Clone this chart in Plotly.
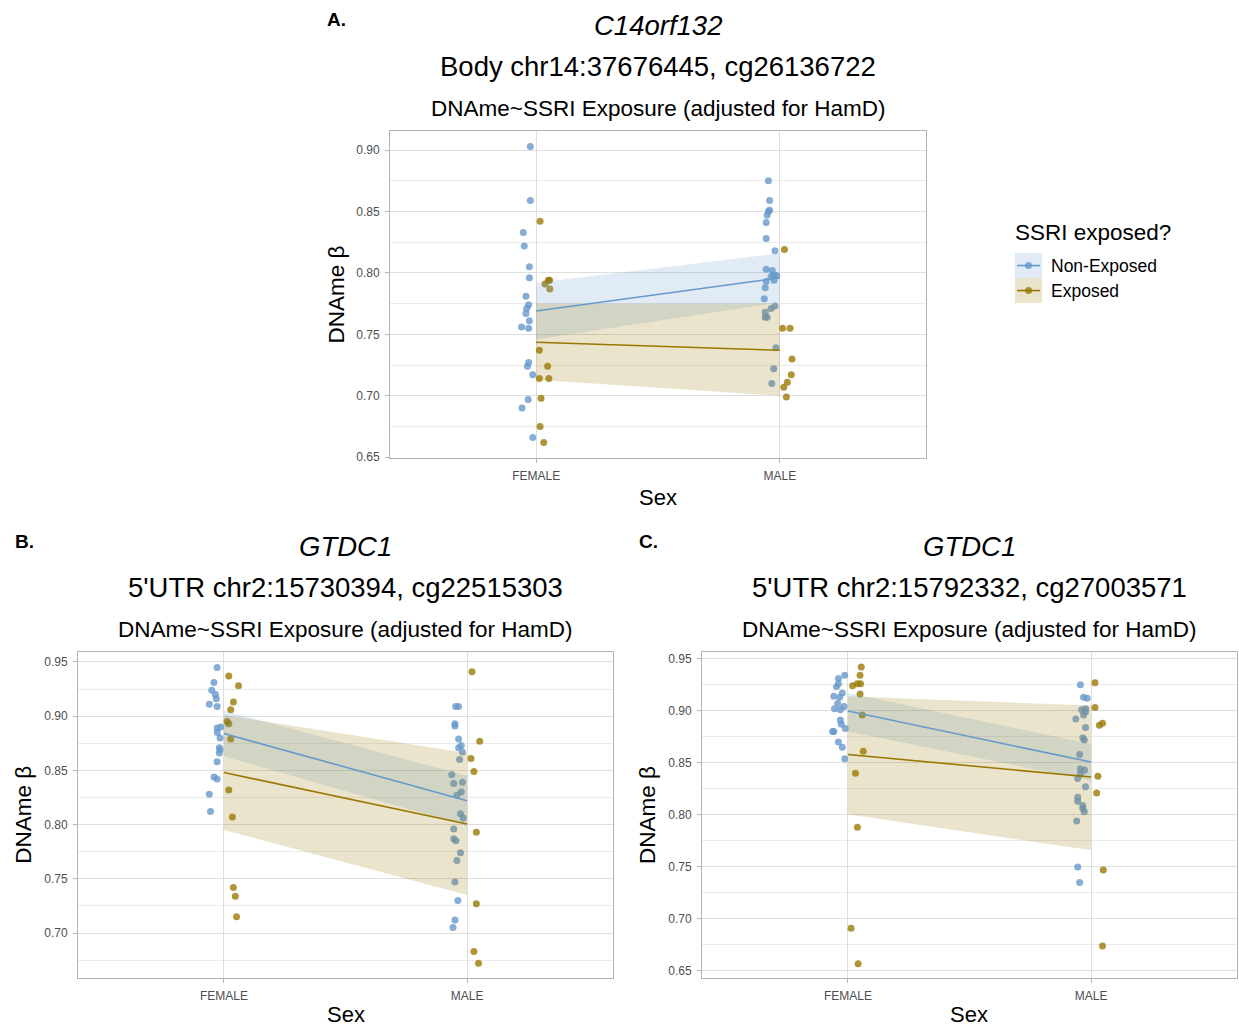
import plotly.graph_objects as go

W, H = 1239, 1026
BLUE = "#6699CC"
GOLD = "#997700"
FONT = "Liberation Sans, Arial, sans-serif"

sex_labels = ["FEMALE", "MALE"]
sex_pos = [1, 2]
group_names = ["Non-Exposed", "Exposed"]

# ---------------- Panel A: C14orf132 ----------------
A_nonexp_F_y = [0.903, 0.859, 0.833, 0.822, 0.805, 0.796, 0.781, 0.774, 0.771, 0.767, 0.761, 0.756, 0.755, 0.724, 0.727, 0.717, 0.697, 0.690, 0.666]
A_nonexp_F_dx = [-0.024, -0.024, -0.053, -0.049, -0.028, -0.028, -0.042, -0.031, -0.039, -0.042, -0.028, -0.060, -0.031, -0.036, -0.031, -0.014, -0.033, -0.058, -0.014]
A_exp_F_y = [0.842, 0.794, 0.794, 0.791, 0.787, 0.737, 0.724, 0.714, 0.714, 0.698, 0.675, 0.662]
A_exp_F_dx = [0.016, 0.055, 0.050, 0.036, 0.056, 0.013, 0.047, 0.013, 0.052, 0.020, 0.016, 0.031]
A_nonexp_M_y = [0.875, 0.859, 0.851, 0.850, 0.847, 0.841, 0.828, 0.818, 0.803, 0.802, 0.798, 0.798, 0.797, 0.794, 0.793, 0.788, 0.779, 0.773, 0.771, 0.768, 0.764, 0.764, 0.739, 0.722, 0.710]
A_nonexp_M_dx = [-0.047, -0.042, -0.042, -0.047, -0.052, -0.056, -0.056, -0.020, -0.056, -0.031, -0.025, -0.013, -0.036, -0.024, -0.056, -0.060, -0.064, -0.020, -0.036, -0.060, -0.060, -0.052, -0.016, -0.025, -0.033]
A_exp_M_y = [0.819, 0.755, 0.755, 0.730, 0.717, 0.711, 0.707, 0.699]
A_exp_M_dx = [0.019, 0.011, 0.042, 0.050, 0.047, 0.031, 0.016, 0.027]
A_fit_nonexp = [0.769, 0.796]
A_lo_nonexp = [0.746, 0.776]
A_hi_nonexp = [0.792, 0.816]
A_fit_exp = [0.7435, 0.737]
A_lo_exp = [0.713, 0.700]
A_hi_exp = [0.775, 0.775]

# ---------------- Panel B: GTDC1 cg22515303 ----------------
B_nonexp_F_y = [0.945, 0.931, 0.924, 0.920, 0.916, 0.911, 0.909, 0.890, 0.889, 0.885, 0.880, 0.871, 0.869, 0.866, 0.858, 0.844, 0.842, 0.828, 0.812]
B_nonexp_F_dx = [-0.028, -0.041, -0.050, -0.035, -0.031, -0.060, -0.028, -0.013, -0.028, -0.027, -0.016, -0.019, -0.016, -0.019, -0.028, -0.041, -0.028, -0.060, -0.055]
B_exp_F_y = [0.937, 0.928, 0.913, 0.906, 0.895, 0.893, 0.879, 0.832, 0.807, 0.742, 0.734, 0.715]
B_exp_F_dx = [0.020, 0.060, 0.039, 0.028, 0.013, 0.020, 0.028, 0.020, 0.035, 0.039, 0.047, 0.052]
B_nonexp_M_y = [0.909, 0.909, 0.893, 0.891, 0.879, 0.873, 0.871, 0.867, 0.860, 0.846, 0.838, 0.839, 0.830, 0.827, 0.810, 0.806, 0.796, 0.787, 0.785, 0.774, 0.767, 0.747, 0.730, 0.712, 0.705]
B_nonexp_M_dx = [-0.047, -0.035, -0.050, -0.050, -0.035, -0.024, -0.035, -0.019, -0.031, -0.063, -0.055, -0.019, -0.024, -0.042, -0.027, -0.016, -0.055, -0.055, -0.046, -0.027, -0.042, -0.050, -0.038, -0.050, -0.058]
B_exp_M_y = [0.941, 0.877, 0.861, 0.849, 0.793, 0.727, 0.683, 0.672]
B_exp_M_dx = [0.020, 0.052, 0.016, 0.028, 0.038, 0.038, 0.028, 0.047]
B_fit_nonexp = [0.884, 0.822]
B_lo_nonexp = [0.863, 0.799]
B_hi_nonexp = [0.905, 0.845]
B_fit_exp = [0.848, 0.8005]
B_lo_exp = [0.795, 0.735]
B_hi_exp = [0.901, 0.866]

# ---------------- Panel C: GTDC1 cg27003571 ----------------
C_nonexp_F_y = [0.934, 0.931, 0.926, 0.923, 0.917, 0.914, 0.913, 0.907, 0.904, 0.902, 0.901, 0.891, 0.887, 0.883, 0.880, 0.880, 0.870, 0.865, 0.854]
C_nonexp_F_dx = [-0.013, -0.039, -0.039, -0.047, -0.023, -0.058, -0.034, -0.042, -0.016, -0.055, -0.031, -0.031, -0.027, -0.011, -0.063, -0.058, -0.039, -0.023, -0.013]
C_exp_F_y = [0.942, 0.934, 0.924, 0.926, 0.926, 0.916, 0.896, 0.861, 0.840, 0.788, 0.691, 0.657]
C_exp_F_dx = [0.055, 0.050, 0.019, 0.039, 0.052, 0.050, 0.059, 0.063, 0.031, 0.039, 0.013, 0.042]
C_nonexp_M_y = [0.925, 0.913, 0.912, 0.901, 0.902, 0.899, 0.896, 0.892, 0.884, 0.874, 0.872, 0.858, 0.844, 0.843, 0.835, 0.817, 0.813, 0.809, 0.806, 0.803, 0.827, 0.794, 0.750, 0.735, 0.839]
C_nonexp_M_dx = [-0.044, -0.031, -0.016, -0.039, -0.023, -0.023, -0.031, -0.063, -0.023, -0.034, -0.028, -0.047, -0.044, -0.027, -0.055, -0.055, -0.055, -0.034, -0.034, -0.028, -0.023, -0.059, -0.055, -0.047, -0.044]
C_exp_M_y = [0.927, 0.903, 0.886, 0.888, 0.837, 0.821, 0.747, 0.674]
C_exp_M_dx = [0.016, 0.016, 0.034, 0.047, 0.028, 0.023, 0.050, 0.047]
C_fit_nonexp = [0.8997, 0.8507]
C_lo_nonexp = [0.880, 0.833]
C_hi_nonexp = [0.917, 0.868]
C_fit_exp = [0.858, 0.8363]
C_lo_exp = [0.8005, 0.766]
C_hi_exp = [0.914, 0.905]

titles = [
    ("C14orf132", "Body chr14:37676445, cg26136722"),
    ("GTDC1", "5'UTR chr2:15730394, cg22515303"),
    ("GTDC1", "5'UTR chr2:15792332, cg27003571"),
]
subtitle = "DNAme~SSRI Exposure (adjusted for HamD)"

panels = [
    dict(F=[(A_nonexp_F_dx, A_nonexp_F_y), (A_exp_F_dx, A_exp_F_y)],
         M=[(A_nonexp_M_dx, A_nonexp_M_y), (A_exp_M_dx, A_exp_M_y)],
         fit=[(A_fit_nonexp, A_lo_nonexp, A_hi_nonexp), (A_fit_exp, A_lo_exp, A_hi_exp)],
         px=(390, 926, 130, 456.7), yr=(0.6495, 0.9155), dtick=0.05, sex_gap=40),
    dict(F=[(B_nonexp_F_dx, B_nonexp_F_y), (B_exp_F_dx, B_exp_F_y)],
         M=[(B_nonexp_M_dx, B_nonexp_M_y), (B_exp_M_dx, B_exp_M_y)],
         fit=[(B_fit_nonexp, B_lo_nonexp, B_hi_nonexp), (B_fit_exp, B_lo_exp, B_hi_exp)],
         px=(78, 613, 651, 976.7), yr=(0.6588, 0.9592), dtick=0.05, sex_gap=37),
    dict(F=[(C_nonexp_F_dx, C_nonexp_F_y), (C_exp_F_dx, C_exp_F_y)],
         M=[(C_nonexp_M_dx, C_nonexp_M_y), (C_exp_M_dx, C_exp_M_y)],
         fit=[(C_fit_nonexp, C_lo_nonexp, C_hi_nonexp), (C_fit_exp, C_lo_exp, C_hi_exp)],
         px=(702, 1237, 651, 977), yr=(0.6433, 0.9564), dtick=0.05, sex_gap=37),
]

colors = [BLUE, GOLD]
pt_rgba = ["rgba(102,153,204,0.8)", "rgba(153,119,0,0.78)"]
fill_rgba = ["rgba(102,153,204,0.2)", "rgba(153,119,0,0.2)"]

# small empirical vertical calibration of the rendered page
VS, VOFF = 0.9933, -1.1


def px_x(x):
    return x / W


def px_y(y):
    return 1 - ((y - VOFF) / VS) / H


def note(text, x, y, size, xanchor="center", angle=0):
    return dict(text=text, x=px_x(x), y=px_y(y), xref="paper", yref="paper",
                xanchor=xanchor, yanchor="middle", showarrow=False, textangle=angle,
                font=dict(family=FONT, size=size, color="#000000"))


fig = go.Figure()
annotations = []
shapes = []

for i, p in enumerate(panels):
    sfx = "" if i == 0 else str(i + 1)
    xa, ya = "x" + sfx, "y" + sfx
    # points first (ribbons are drawn over them as in the original)
    for g in range(2):
        xs, ys = [], []
        for pos, key in zip(sex_pos, ["F", "M"]):
            dx, yv = p[key][g]
            xs += [pos + d for d in dx]
            ys += list(yv)
        fig.add_trace(go.Scatter(x=xs, y=ys, mode="markers", xaxis=xa, yaxis=ya,
                                 marker=dict(size=7, color=pt_rgba[g], line=dict(width=0)),
                                 name=group_names[g], showlegend=False, hoverinfo="x+y"))
    for g in range(2):
        fit, lo, hi = p["fit"][g]
        fig.add_trace(go.Scatter(x=sex_pos + sex_pos[::-1], y=list(lo) + list(hi)[::-1],
                                 mode="lines", fill="toself", fillcolor=fill_rgba[g],
                                 line=dict(width=0), xaxis=xa, yaxis=ya,
                                 showlegend=False, hoverinfo="skip"))
    for g in range(2):
        fit, lo, hi = p["fit"][g]
        fig.add_trace(go.Scatter(x=sex_pos, y=fit, mode="lines", xaxis=xa, yaxis=ya,
                                 line=dict(color=colors[g], width=1.6),
                                 name=group_names[g], showlegend=False))

    x0, x1, y0, y1 = p["px"]
    axis_common = dict(showline=True, mirror=True, linecolor="#B3B3B3", linewidth=1,
                       ticks="outside", ticklen=4, tickcolor="#B3B3B3",
                       tickfont=dict(family=FONT, size=12, color="#4D4D4D"),
                       gridcolor="#DEDEDE", gridwidth=1, zeroline=False,
                       ticklabelstandoff=3)
    fig.update_layout(**{
        "xaxis" + sfx: dict(domain=[px_x(x0), px_x(x1)], anchor=ya, range=[0.4, 2.6],
                            tickvals=sex_pos, ticktext=sex_labels, **axis_common),
        "yaxis" + sfx: dict(domain=[px_y(y1), px_y(y0)], anchor=xa, range=list(p["yr"]),
                            dtick=p["dtick"], tickformat=".2f",
                            minor=dict(dtick=p["dtick"] / 2, showgrid=True,
                                       gridcolor="#EBEBEB", gridwidth=1, ticks=""),
                            **axis_common),
    })

    cx = (x0 + x1) / 2
    gene, locus = titles[i]
    annotations += [
        note("<i>" + gene + "</i>", cx, y0 - 106, 27.5),
        note(locus, cx, y0 - 65, 27.5),
        note(subtitle, cx, y0 - 23, 22.5),
        note("Sex", cx, y1 + p["sex_gap"], 22),
        note("DNAme β", x0 - 54, (y0 + y1) / 2, 22.5, angle=-90),
    ]

annotations += [
    note("<b>A.</b>", 325, 18, 19, xanchor="left"),
    note("<b>B.</b>", 13, 540, 19, xanchor="left"),
    note("<b>C.</b>", 637, 540, 19, xanchor="left"),
]

# legend (drawn manually to reproduce ggplot's key boxes)
annotations.append(note("SSRI exposed?", 1013, 231, 22.5, xanchor="left"))
key_tops = [252, 277]
for g in range(2):
    t = key_tops[g]
    shapes.append(dict(type="rect", xref="paper", yref="paper", x0=px_x(1015), x1=px_x(1042),
                       y0=px_y(t + 25), y1=px_y(t), fillcolor=fill_rgba[g], line=dict(width=0), layer="below"))
    cy = t + 12.5
    shapes.append(dict(type="line", xref="paper", yref="paper", x0=px_x(1017), x1=px_x(1040),
                       y0=px_y(cy), y1=px_y(cy), line=dict(color=colors[g], width=1.6)))
    shapes.append(dict(type="circle", xref="paper", yref="paper", x0=px_x(1025), x1=px_x(1032),
                       y0=px_y(cy + 3.5), y1=px_y(cy - 3.5), fillcolor=pt_rgba[g], line=dict(width=0)))
    annotations.append(note(group_names[g], 1049, cy, 17.5, xanchor="left"))

fig.update_layout(width=W, height=H, margin=dict(l=0, r=0, t=0, b=0),
                  paper_bgcolor="white", plot_bgcolor="white",
                  annotations=annotations, shapes=shapes, showlegend=False)

fig.write_html("out.html")
